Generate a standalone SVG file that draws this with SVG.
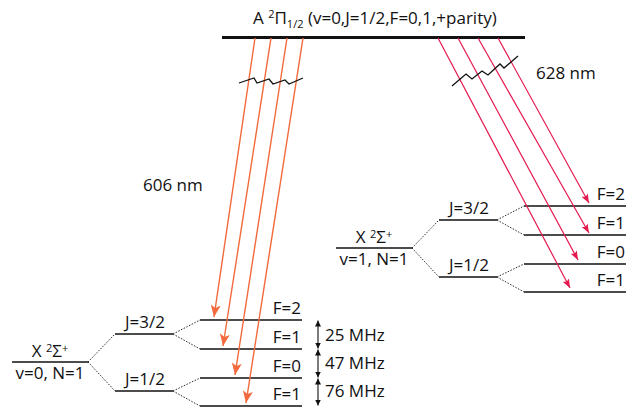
<svg xmlns="http://www.w3.org/2000/svg" width="642" height="409" viewBox="0 0 642 409">
<defs>
<style>
text{font-family:"Open Sans","Liberation Sans",sans-serif;font-size:17px;fill:#111}
.lv{stroke:#111;stroke-width:1.4;fill:none}
.dot{stroke:#111;stroke-width:0.9;stroke-dasharray:1.5 1.5;fill:none}
.or{stroke:#F26A3D;stroke-width:1.4;fill:none}
.pk{stroke:#E5194F;stroke-width:1.2;fill:none}
.zz{stroke:#111;stroke-width:1.3;fill:none}
.sm{font-size:11px}
.r{text-anchor:end}
.m{text-anchor:middle}
</style>
<marker id="ao" viewBox="0 0 12 10" refX="12" refY="5" markerWidth="12" markerHeight="10" markerUnits="userSpaceOnUse" orient="auto"><path d="M0,0 L12,5 L0,10 L3,5 Z" fill="#F26A3D"/></marker>
<marker id="ap" viewBox="0 0 9 7" refX="9" refY="3.5" markerWidth="9" markerHeight="7" markerUnits="userSpaceOnUse" orient="auto"><path d="M0,0 L9,3.5 L0,7 L2,3.5 Z" fill="#E5194F"/></marker>
<marker id="ak" viewBox="0 0 6 6" refX="6" refY="3" markerWidth="6" markerHeight="6" markerUnits="userSpaceOnUse" orient="auto"><path d="M0,0 L6,3 L0,6 Z" fill="#111"/></marker>
<g id="xstate">
<line class="lv" x1="12" y1="362" x2="88" y2="362"/>
<line class="lv" x1="115" y1="334" x2="173" y2="334"/>
<line class="lv" x1="115" y1="391" x2="173" y2="391"/>
<line class="lv" x1="200" y1="320" x2="302" y2="320"/>
<line class="lv" x1="200" y1="349" x2="302" y2="349"/>
<line class="lv" x1="200" y1="378" x2="302" y2="378"/>
<line class="lv" x1="200" y1="406" x2="302" y2="406"/>
<path class="dot" d="M88,362 L115,334 M88,362 L115,391 M173,334 L200,320 M173,334 L200,349 M173,391 L200,378 M173,391 L200,406"/>
<text x="50" y="357" class="m">X <tspan class="sm" dy="-5">2</tspan><tspan dy="5">Σ</tspan><tspan class="sm" dy="-5">+</tspan></text>
<text x="145" y="328" class="m">J=3/2</text>
<text x="145" y="385" class="m">J=1/2</text>
<text x="301" y="314" class="r">F=2</text>
<text x="301" y="343" class="r">F=1</text>
<text x="301" y="372" class="r">F=0</text>
<text x="301" y="400" class="r">F=1</text>
</g>
</defs>
<g id="A-state">
<line x1="222" y1="37.5" x2="525" y2="37.5" stroke="#111" stroke-width="3"/>
<text x="253" y="24">A <tspan class="sm" dy="-6">2</tspan><tspan dy="6">Π</tspan><tspan class="sm" dy="4">1/2</tspan><tspan dy="-4"> (v=0,J=1/2,F=0,1,+parity)</tspan></text>
</g>
<g id="X-v0">
<use href="#xstate"/>
<text x="50" y="379" class="m">v=0, N=1</text>
</g>
<g id="X-v1">
<use href="#xstate" transform="translate(324,-114)"/>
<text x="374" y="265" class="m">v=1, N=1</text>
</g>
<g id="connectors">
<line class="or" x1="255" y1="38" x2="214" y2="317" marker-end="url(#ao)"/>
<line class="or" x1="271" y1="38" x2="223" y2="346" marker-end="url(#ao)"/>
<line class="or" x1="287" y1="38" x2="235" y2="375" marker-end="url(#ao)"/>
<line class="or" x1="303" y1="38" x2="246" y2="403" marker-end="url(#ao)"/>
<line class="pk" x1="438" y1="38" x2="570" y2="288" marker-end="url(#ap)"/>
<line class="pk" x1="458" y1="38" x2="578" y2="260" marker-end="url(#ap)"/>
<line class="pk" x1="478" y1="38" x2="589" y2="233" marker-end="url(#ap)"/>
<line class="pk" x1="498" y1="38" x2="589" y2="203" marker-end="url(#ap)"/>
<path class="zz" d="M239,83 L254,78 L257,83 L269,79 L273,84 L285,80 L289,84 L303,78"/>
<path class="zz" d="M452,86 L466,74 L472,79 L482,71 L488,75 L500,64 L504,68 L518,56"/>
<line stroke="#111" stroke-width="1.1" x1="318" y1="334" x2="318" y2="320.5" marker-end="url(#ak)"/>
<line stroke="#111" stroke-width="1.1" x1="318" y1="334" x2="318" y2="348.5" marker-end="url(#ak)"/>
<line stroke="#111" stroke-width="1.1" x1="318" y1="363" x2="318" y2="349.5" marker-end="url(#ak)"/>
<line stroke="#111" stroke-width="1.1" x1="318" y1="363" x2="318" y2="377.5" marker-end="url(#ak)"/>
<line stroke="#111" stroke-width="1.1" x1="318" y1="392" x2="318" y2="378.5" marker-end="url(#ak)"/>
<line stroke="#111" stroke-width="1.1" x1="318" y1="392" x2="318" y2="405.5" marker-end="url(#ak)"/>
</g>
<g id="labels">
<text x="143" y="191">606 nm</text>
<text x="536" y="79">628 nm</text>
<text x="325" y="341">25 MHz</text>
<text x="325" y="369">47 MHz</text>
<text x="325" y="397">76 MHz</text>
</g>
</svg>
